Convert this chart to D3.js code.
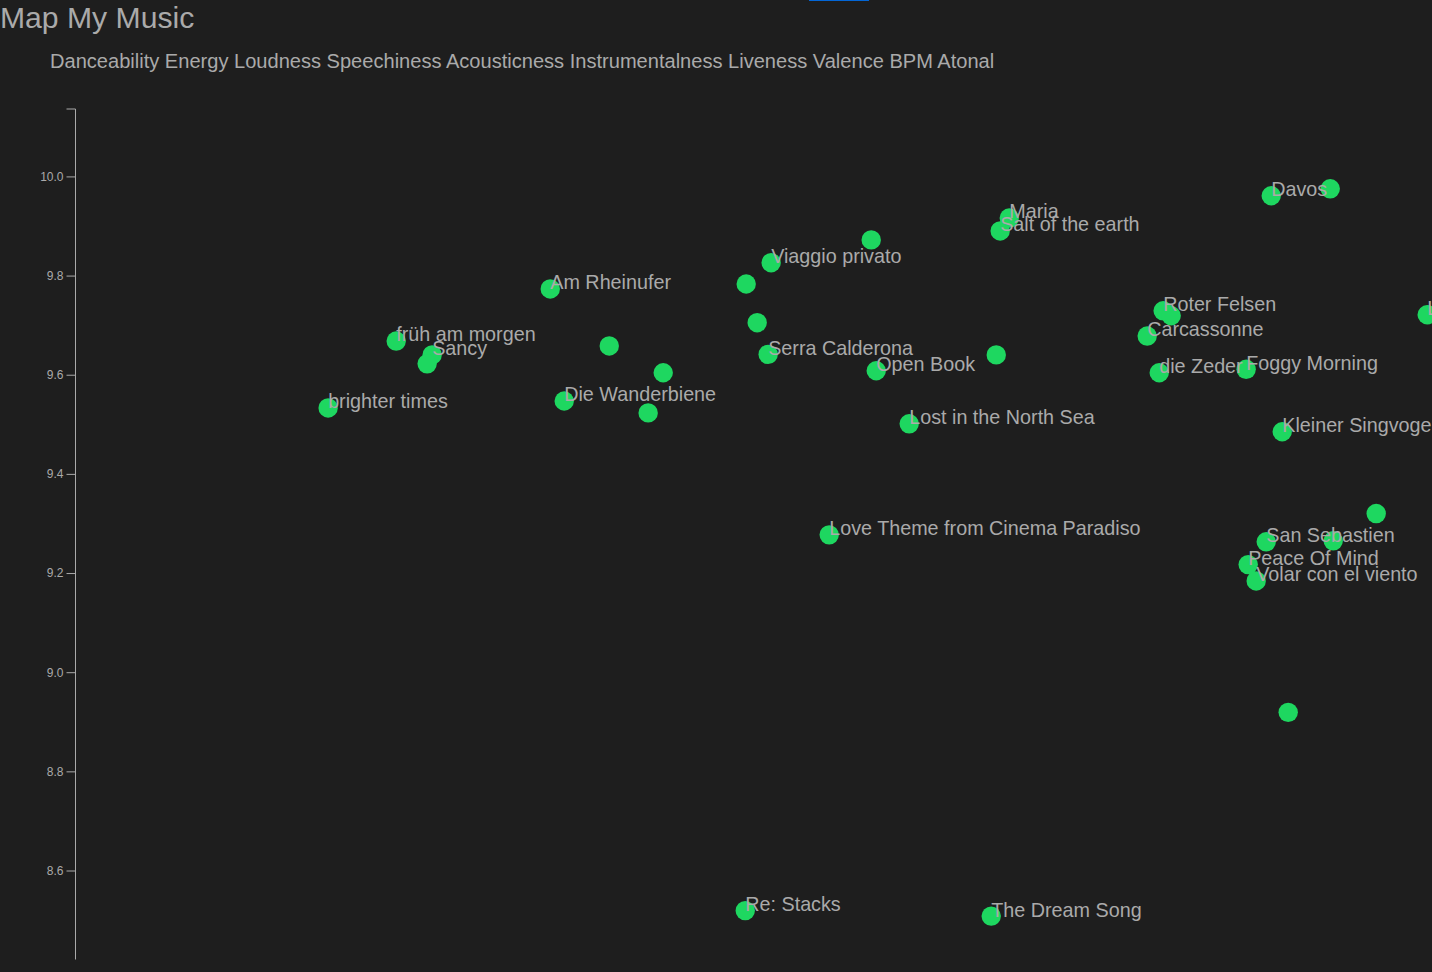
<!DOCTYPE html>
<html><head><meta charset="utf-8">
<script src="https://cdn.jsdelivr.net/npm/d3@7/dist/d3.min.js"></script>
<style>
html,body{margin:0;padding:0;background:#1e1e1e;overflow:hidden;width:1432px;height:972px}
svg{position:absolute;left:0;top:0}
text{font-family:"Liberation Sans",Arial,sans-serif}
</style></head><body>
<svg id="c" width="1432" height="972"></svg>
<script>
const title = "Map My Music";
const features = ["Danceability","Energy","Loudness","Speechiness","Acousticness","Instrumentalness","Liveness","Valence","BPM","Atonal"];
const tickValues = [8.6,8.8,9.0,9.2,9.4,9.6,9.8,10.0];
const names = ["brighter times","früh am morgen","Sancy","","Die Wanderbiene","Am Rheinufer","","","","","","Viaggio privato","Serra Calderona","","Open Book","Lost in the North Sea","Love Theme from Cinema Paradiso","Re: Stacks","The Dream Song","Maria","Salt of the earth","","Davos","","Roter Felsen","","Carcassonne","die Zeder","Foggy Morning","Kleiner Singvogel","L","","San Sebastien","","Peace Of Mind","Volar con el viento",""];
const xValues = [.1858,.2360,.2625,.2588,.3599,.3496,.3931,.4329,.4218,.4941,.5022,.5125,.5103,.5863,.5900,.6143,.5553,.4934,.6748,.6881,.6814,.6785,.8813,.9248,.8016,.8075,.7898,.7987,.8628,.8894,.9963,.9587,.8776,.9270,.8643,.8702,.8938];
const yValues = [9.533,9.668,9.640,9.622,9.547,9.773,9.658,9.604,9.523,9.783,9.705,9.826,9.641,9.872,9.608,9.501,9.277,8.519,8.508,9.916,9.890,9.640,9.961,9.975,9.729,9.719,9.678,9.604,9.611,9.485,9.721,9.320,9.263,9.265,9.217,9.184,8.919];

const svg = d3.select("#c");
const x = d3.scaleLinear().domain([0,1]).range([76.2,1432.2]);
const y = d3.scaleLinear().domain([10.137,8.4205]).range([108.5,959.5]);

svg.append("rect").attr("x",809).attr("y",0).attr("width",60).attr("height",1).attr("fill","#0366d6");
svg.append("text").text(title).attr("x",0).attr("y",28).attr("font-size",30.15).attr("fill","#aaaaaa");
svg.append("text").text(features.join(" ")).attr("x",50).attr("y",68).attr("font-size",20.07).attr("fill","#aaaaaa");

const axis = svg.append("g").attr("transform","translate(75.5,0)")
  .call(d3.axisLeft(y).tickValues(tickValues).tickFormat(d3.format(".1f")).tickSize(9).tickPadding(3).tickSizeOuter(0));
axis.select("path.domain").attr("d",`M-9,${y.range()[0]+0.5}H0V${y.range()[1]}`);
axis.selectAll("path,line").attr("stroke","#aaaaaa");
axis.selectAll("text").attr("fill","#aaaaaa").attr("font-size",12).attr("font-family","'Liberation Sans',Arial,sans-serif");

svg.append("g").selectAll("circle").data(xValues).join("circle")
  .attr("cx",d=>x(d)).attr("cy",(d,i)=>y(yValues[i])).attr("r",9.7).attr("fill","#1ed760");
svg.append("g").selectAll("text").data(names).join("text")
  .text(d=>d).attr("x",(d,i)=>x(xValues[i])).attr("y",(d,i)=>y(yValues[i])+0.4)
  .attr("font-size",19.75).attr("fill","#aaaaaa");
</script></body></html>
